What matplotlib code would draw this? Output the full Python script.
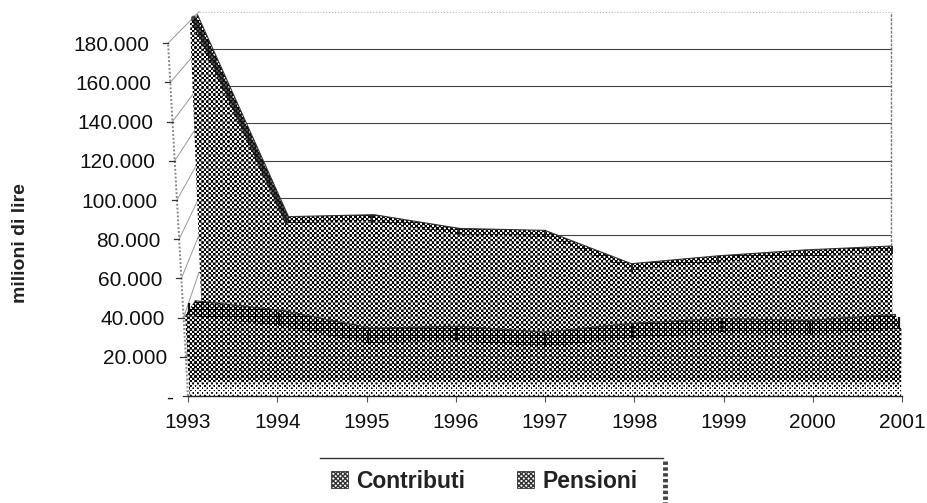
import numpy as np
import matplotlib
matplotlib.use('Agg')
import matplotlib.pyplot as plt
from matplotlib.patches import Patch, Polygon
from matplotlib.lines import Line2D

plt.rcParams['font.family'] = ['Liberation Sans', 'DejaVu Sans']

years = [1993, 1994, 1995, 1996, 1997, 1998, 1999, 2000, 2001]
contributi = [41, 36, 27, 28, 25, 29.5, 32, 31, 34]
pensioni = [191, 88, 89, 82, 81, 64, 68, 71, 73]
y_ticks = [0, 20, 40, 60, 80, 100, 120, 140, 160, 180]
y_labels = ['-', '20.000', '40.000', '60.000', '80.000', '100.000', '120.000', '140.000', '160.000', '180.000']

W, H = 927, 503
fig = plt.figure(figsize=(W / 100, H / 100), dpi=100)
ax = fig.add_axes([188 / W, (H - 396) / H, (902 - 188) / W, 392 / H])
ax.set_xlim(1993, 2001)
ax.set_ylim(0, 200)
ax.patch.set_visible(False)
for s in ax.spines.values():
    s.set_visible(False)


def warp_x(x, v, d):
    # pseudo 3d: depth pulls towards the middle, the left side leans with height
    x, v = np.asarray(x, float), np.asarray(v, float)
    shrink = np.where(x < 1997, 0.056, 0.033) * d
    tilt = (0.00031 - 0.00015 * d ** 4) * np.where(x < 1997, 1, 0.1)
    return 1997 + (x - 1997) * (1 - shrink) * (1 + tilt * v)


def wall_x(x):
    return 1997 + (np.asarray(x, float) - 1997) * (1 - 0.0308)


def wall_y(v):
    return np.asarray(v, float) * 0.95 + 6.1


# screen dither, the scan has this coarse halftone everywhere
px, py = np.meshgrid(np.arange(W), np.arange(H))
checker = np.cos(2 * np.pi * px / 4.7) * np.cos(2 * np.pi * py / 4.7)
inv = ax.transData.inverted()
full_ext = [inv.transform((0, 0))[0], inv.transform((W, 0))[0], inv.transform((0, 0))[1], inv.transform((0, H))[1]]


def dither_fill(xs, ys, dark, z):
    level = np.broadcast_to(dark, checker.shape)
    img = np.clip((checker + 1.6 * (0.5 - level)) * 2.2 + 0.5, 0, 1)
    im = ax.imshow(img, cmap='gray', vmin=0, vmax=1, extent=full_ext, origin='upper',
                   interpolation='nearest', aspect='auto', zorder=z)
    poly = Polygon(np.column_stack([xs, ys]), closed=True, transform=ax.transData, fc='none', ec='none')
    ax.add_patch(poly)
    im.set_clip_path(poly)
    im.set_clip_box(fig.bbox)


def area_3d(vals, face_d, top_d, lift, face_dark, top_dark, z):
    vals = np.asarray(vals, float)
    xf = warp_x(years, vals, face_d)
    xt = warp_x(years, vals + lift, top_d)
    x0 = warp_x([years[-1], years[0]], [0, 0], face_d)
    dither_fill(np.r_[xf, x0], np.r_[vals, 0, 0], face_dark, z)
    dither_fill(np.r_[xt, xf[::-1]], np.r_[vals + lift, vals[::-1]], top_dark, z + 0.1)
    ax.plot(xt, vals + lift, color='#333333', lw=0.8, clip_on=False, zorder=z + 0.2)
    return xf, xt


# back wall and side wall
for i, v in enumerate(y_ticks[1:]):
    vb = v + 20
    ax.plot(wall_x([1993, 2001]), wall_y([v, v]), color='#444444', lw=0.8, clip_on=False, zorder=1)
    ax.plot([warp_x(1993, v, 0), wall_x(1993)], [v, wall_y(vb)], color='#999999', lw=0.7, clip_on=False, zorder=1)
ax.plot(wall_x([1993, 2001]), wall_y([200, 200]), color='#bbbbbb', lw=0.8, ls=':', clip_on=False, zorder=1)
ax.plot(warp_x([1993, 1993], [0, 180], 0), [0, 180], color='#888888', lw=1.4, ls=(0, (1, 1)), clip_on=False, zorder=1)
ax.plot(wall_x([2001, 2001]), wall_y([70, 200]), color='#777777', lw=1.0, ls=(0, (2, 1)), clip_on=False, zorder=1)

xf, xt = area_3d(pensioni, 0.85, 1.0, 3.5, 0.52, 0.62, 2)
# steep first stretch shows a dark flank
ax.plot((xf[:2] + xt[:2]) / 2, np.array(pensioni[:2]) + 1.7, color='#1a1a1a', lw=4, alpha=0.75,
        solid_capstyle='round', clip_on=False, zorder=2.3)
area_3d(contributi, 0.08, 0.6, 7.6, 0.56, 0.68, 3)

# lighter strip along the floor
floor_dark = np.where(py > 379, np.clip(0.56 - (py - 379) * 0.04, 0.2, 0.56), 0.56)
fx = warp_x([1993, 2001], [0, 0], 0.08)
dither_fill([fx[0], fx[1], fx[1], fx[0]], [0, 0, 8, 8], floor_dark, 3.5)

ax.plot(warp_x(years, np.array(contributi) + 3.5, 0.3), np.array(contributi) + 3.5, ls='none', marker='|',
        ms=9, mew=1.6, color='#111111', clip_on=False, zorder=4)
ax.plot(warp_x(years[1:], np.array(pensioni[1:]) + 1.5, 0.9), np.array(pensioni[1:]) + 1.5, ls='none', marker='|',
        ms=6, mew=1.4, color='#222222', clip_on=False, zorder=4)

# axis lines
ax.plot([1993, 2001], [0, 0], color='#222222', lw=1.0, clip_on=False, zorder=5)
ax.tick_params(axis='x', length=4, width=0.8, color='#555555', pad=8, labelsize=15, labelcolor='#111111')
ax.tick_params(axis='y', length=0, labelsize=15, labelcolor='#111111')
ax.set_xticks(years)
ax.set_yticks(y_ticks)
ax.set_yticklabels(y_labels)
# labels follow the leaning axis
for v, tick in zip(y_ticks, ax.yaxis.get_major_ticks()):
    tx = warp_x(1993, v, 0)
    gap_px = (1993 - tx) * 89.25 + 19
    tick.set_pad((gap_px if v else 15) * 0.72)
    ax.plot([tx - 0.06, tx], [v, v], color='#333333', lw=0.9, clip_on=False, zorder=5)

fig.text(21 / W, 1 - 243 / H, 'milioni di lire', rotation=90, fontsize=14, fontweight='bold',
         ha='center', va='center', color='#222222')

# legend, cut off by the bottom of the scan
fig.add_artist(Line2D([320 / W, 663 / W], [1 - 458 / H, 1 - 458 / H], color='#333333', lw=1.0))
fig.add_artist(Line2D([665 / W, 665 / W], [1 - 461 / H, 0], color='#444444', lw=3.5, ls=(0, (0.7, 0.5))))
handles = [Patch(fc='white', ec='#333333', hatch='xxxxxxx', lw=0.6, label='Contributi'),
           Patch(fc='white', ec='#333333', hatch='xxxxxxx', lw=0.6, label='Pensioni')]
fig.legend(handles=handles, loc='center left', bbox_to_anchor=(331 / W, 1 - 481 / H), ncol=2, frameon=False,
           prop={'size': 16.5, 'weight': 'bold'}, handlelength=0.73, handleheight=0.73, handletextpad=0.35,
           columnspacing=2.3, labelcolor='#222222', borderpad=0, borderaxespad=0)

fig.savefig('out.png', dpi=100)
